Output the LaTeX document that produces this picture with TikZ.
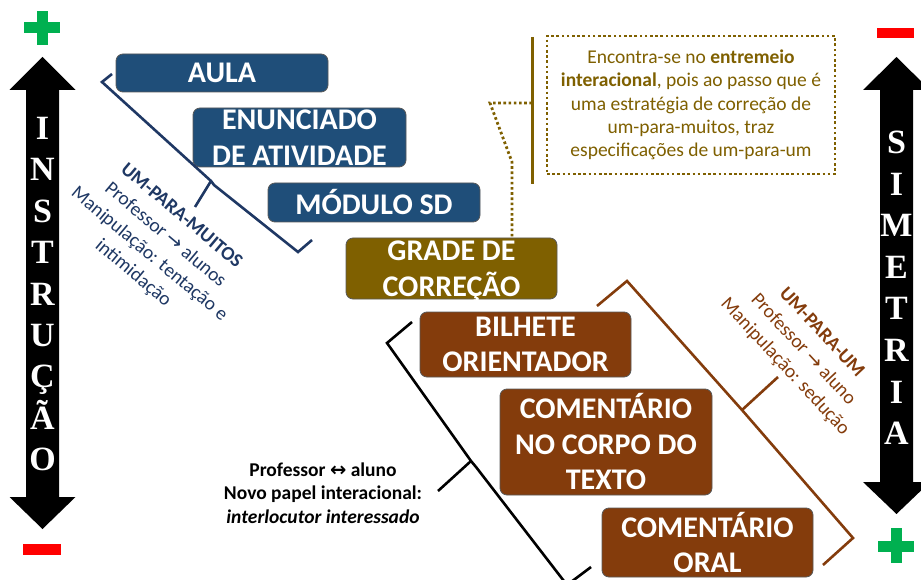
\documentclass[tikz,border=0pt]{standalone}
\usepackage{fontspec}
\setmainfont{Carlito}
\newfontfamily\lettersfont{Liberation Serif}
\newfontfamily\arrowfont{DejaVu Sans}
\definecolor{navybox}{HTML}{1F4E79}
\definecolor{olivebox}{HTML}{7F6000}
\definecolor{rustbox}{HTML}{843C0C}
\definecolor{plusgreen}{HTML}{00B050}
\definecolor{minusred}{HTML}{FF0000}
\definecolor{navytext}{HTML}{1F3864}
\tikzset{
  cbox/.style={rounded corners=7pt, draw=black!65, line width=0.8pt, text=white,
    font=\bfseries\fontsize{30}{35.5}\selectfont, align=center, inner sep=0pt},
  bluebox/.style={cbox, fill=navybox},
  olivefill/.style={cbox, fill=olivebox},
  rustfill/.style={cbox, fill=rustbox},
  letter/.style={text=white, font=\lettersfont\bfseries\fontsize{34}{34}\selectfont,
    inner sep=0pt, anchor=base},
  bracketline/.style={line width=2.6pt, line join=miter, line cap=butt},
  dotline/.style={olivebox, line width=2.8pt, dash pattern=on 2.6pt off 2.6pt},
  labeltext/.style={align=center, font=\fontsize{19.5}{25}\selectfont, inner sep=0pt},
}
\begin{document}
\begin{tikzpicture}[x=1pt,y=-1pt]
\useasboundingbox (0,0) rectangle (921,580);
\fill[white] (0,0) rectangle (921,580);

% left double arrow
\fill[black] (42.5,57) -- (75.5,90) -- (59,90) -- (59,497) -- (75.5,497) -- (42.5,529)
  -- (9.5,497) -- (26,497) -- (26,90) -- (9.5,90) -- cycle;
\foreach \ch [count=\i] in {I,N,S,T,R,U,Ç,Ã,O}
  \node[letter] (ins\i) at (42.5,{139.5+(\i-1)*41.4}) {\ch};

% right double arrow
\fill[black] (896.5,57) -- (930,90) -- (913,90) -- (913,482) -- (930,482) -- (896.5,514)
  -- (863,482) -- (880,482) -- (880,90) -- (863,90) -- cycle;
\foreach \ch [count=\i] in {S,I,M,E,T,R,I,A}
  \node[letter] (sim\i) at (896.5,{153.5+(\i-1)*41.6}) {\ch};

% plus / minus signs
\fill[plusgreen] (24,22.5) rectangle (60,33.5);
\fill[plusgreen] (36.5,11) rectangle (47.5,45);
\fill[minusred] (23,544) rectangle (61,555);
\fill[minusred] (877,28) rectangle (914,38);
\fill[plusgreen] (878,540.5) rectangle (914,551.5);
\fill[plusgreen] (890.5,528) rectangle (901.5,563);

% boxes
\node[bluebox, minimum width=212pt, minimum height=38pt] (aula) at (222,73) {AULA};
\node[bluebox, minimum width=213pt, minimum height=59pt] (enun) at (299.5,137.5) {ENUNCIADO\\DE ATIVIDADE};
\node[bluebox, minimum width=212pt, minimum height=39pt] (modulo) at (374,202.5) {MÓDULO SD};
\node[olivefill, minimum width=211pt, minimum height=61pt] (grade) at (451.5,268.5) {GRADE DE\\\smash{CORREÇÃO}};
\node[rustfill, minimum width=211pt, minimum height=65pt] (bilhete) at (525.5,344.5) {BILHETE\\ORIENTADOR};
\node[rustfill, minimum width=212pt, minimum height=106pt] (corpo) at (606,442) {COMENTÁRIO\\NO CORPO DO\\TEXTO};
\node[rustfill, minimum width=211pt, minimum height=69pt] (oral) at (707.5,542.5) {COMENTÁRIO\\ORAL};

% blue bracket
\coordinate (bA) at (112,74);
\coordinate (bB) at (102,82);
\coordinate (bC) at (211,181);
\coordinate (bD) at (214,185);
\coordinate (bE) at (298,252);
\coordinate (bF) at (312,240);
\coordinate (bN) at (195,207);
\draw[bracketline, navytext] (bA) -- (bB) -- (bC) -- (bD) -- (bE) -- (bF);
\draw[bracketline, navytext] (bC) -- (bN);
\node[labeltext, rotate=-40, text=navytext] (lblmuitos) at (157,245)
  {\textbf{UM-PARA-MUITOS}\\Professor {\arrowfont →} alunos\\Manipulação: tentação e\\intimidação};

% brown bracket
\coordinate (rA) at (597,306);
\coordinate (rB) at (627,281);
\coordinate (rC) at (742,410);
\coordinate (rD) at (853,538);
\coordinate (rE) at (823,565);
\coordinate (rN) at (778,377);
\draw[bracketline, rustbox] (rA) -- (rB) -- (rC) -- (rD) -- (rE);
\draw[bracketline, rustbox] (rC) -- (rN);
\node[labeltext, rotate=-47, text=rustbox] (lblum) at (803,350)
  {\textbf{UM-PARA-UM}\\Professor {\arrowfont →} aluno\\Manipulação: sedução};

% black bracket
\coordinate (kA) at (412,322);
\coordinate (kB) at (387,343);
\coordinate (kC) at (471,461);
\coordinate (kD) at (476,467);
\coordinate (kE) at (567,585);
\coordinate (kF) at (591,567);
\coordinate (kN) at (438,491);
\draw[bracketline, black] (kA) -- (kB) -- (kC) -- (kD) -- (kE) -- (kF);
\draw[bracketline, black] (kC) -- (kN);
\node[align=center, font=\bfseries\fontsize{19.5}{23.5}\selectfont, inner sep=0pt] (lblinter) at (323,493)
  {Professor {\arrowfont ↔} aluno\\Novo papel interacional:\\\textit{interlocutor interessado}};

% note box with olive line and dotted connector
\node[draw=olivebox, line width=2.6pt, dash pattern=on 2.6pt off 2.6pt,
  minimum width=288pt, minimum height=138pt, align=center, text=olivebox,
  font=\fontsize{19.5}{23.3}\selectfont, inner sep=0pt] (note) at (691,105)
  {Encontra-se no \textbf{entremeio}\\\textbf{interacional}, pois ao passo que é\\uma estratégia de correção de\\um-para-muitos, traz\\especificações de um-para-um};
\coordinate (vtop) at (532,37);
\coordinate (vbot) at (532,184);
\coordinate (vmid) at (532,103);
\coordinate (d1) at (490,103);
\coordinate (d2) at (512,162);
\draw[olivebox, line width=3pt] (vtop) -- (vbot);
\draw[dotline] (vmid) -- (d1) -- (d2) -- (grade.north -| d2);
\end{tikzpicture}
\end{document}
